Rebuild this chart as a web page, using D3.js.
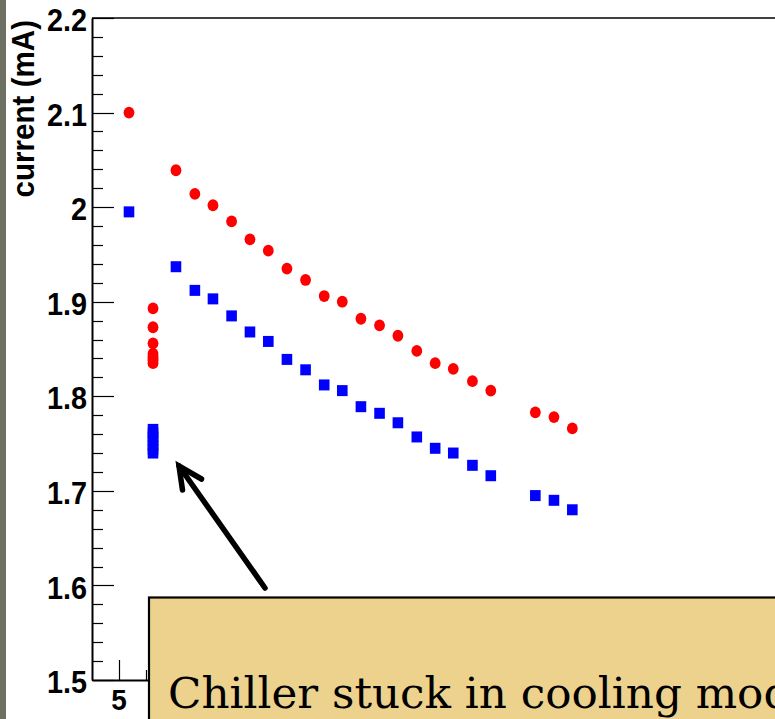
<!DOCTYPE html>
<html>
<head>
<meta charset="utf-8">
<script src="https://cdn.jsdelivr.net/npm/d3@7"></script>
<style>
  html, body { margin: 0; padding: 0; background: #ffffff; overflow: hidden; }
  svg { display: block; }
</style>
</head>
<body>
<svg id="chart" width="775" height="719"></svg>
<script>
// ---- data ----
const redX = [5.37, 6.26, 6.26, 6.26, 6.26, 6.26, 6.26, 6.26, 6.26,
              7.11, 7.81, 8.48, 9.17, 9.85, 10.53, 11.22, 11.91, 12.60, 13.27,
              13.96, 14.65, 15.33, 16.03, 16.71, 17.38, 18.09, 18.77, 20.42, 21.11, 21.79];
const redY = [2.100, 1.893, 1.873, 1.856, 1.845, 1.842, 1.840, 1.838, 1.835,
              2.039, 2.014, 2.002, 1.985, 1.966, 1.954, 1.935, 1.923, 1.906, 1.900,
              1.882, 1.875, 1.864, 1.848, 1.835, 1.829, 1.816, 1.806, 1.783, 1.778, 1.766];
const blueX = [5.37, 6.26, 6.26, 6.26, 6.26, 6.26, 6.26, 6.26,
               7.11, 7.81, 8.48, 9.17, 9.85, 10.53, 11.22, 11.91, 12.60, 13.27,
               13.96, 14.65, 15.33, 16.03, 16.71, 17.38, 18.09, 18.77, 20.42, 21.11, 21.79];
const blueY = [1.995, 1.765, 1.761, 1.757, 1.753, 1.748, 1.744, 1.740,
               1.937, 1.912, 1.903, 1.885, 1.868, 1.858, 1.839, 1.828, 1.812, 1.806,
               1.789, 1.782, 1.772, 1.757, 1.745, 1.740, 1.727, 1.716, 1.695, 1.690, 1.680];
const yMajorTicks = [1.5, 1.6, 1.7, 1.8, 1.9, 2.0, 2.1, 2.2];
const yTickLabels = ["1.5", "1.6", "1.7", "1.8", "1.9", "2", "2.1", "2.2"];
const xMajorTicks = [5];
const xTickLabels = ["5"];
const yTitle = "current (mA)";
const noteText = "Chiller stuck in cooling mode";

// ---- layout ----
const svg = d3.select("#chart");
const pLeft = 92, pTop = 18, pBottom = 680, pRight = 800;

const x = d3.scaleLinear().domain([4, 4 + (pRight - pLeft) / 27]).range([pLeft, pRight]);
const y = d3.scaleLinear().domain([1.5, 2.2]).range([pBottom, pTop]);

// left grey strip
svg.append("rect").attr("x", 0).attr("y", 0).attr("width", 6).attr("height", 719).attr("fill", "#6f7064");

// frame top
svg.append("line").attr("x1", pLeft).attr("x2", 780).attr("y1", pTop).attr("y2", pTop)
  .attr("stroke", "#000").attr("stroke-width", 1.6);

// Y axis
const yMinor = d3.range(0, 36).map(i => 1.5 + i * 0.02);
const yAxis = d3.axisLeft(y).tickValues([]).tickSize(0);
const gy = svg.append("g").attr("transform", `translate(${pLeft},0)`).call(yAxis);
gy.select(".domain").attr("stroke", "#000").attr("stroke-width", 2);
svg.append("g").selectAll("line").data(yMinor).join("line")
  .attr("x1", pLeft).attr("y1", d => Math.round(y(d)) + 0.5)
  .attr("x2", (d, i) => (i % 5 === 0) ? pLeft + 22 : pLeft + 11)
  .attr("y2", d => Math.round(y(d)) + 0.5)
  .attr("stroke", "#000").attr("stroke-width", 1.2);
svg.append("g").selectAll("text").data(yMajorTicks).join("text")
  .attr("transform", d => `translate(87,${y(d) + 2}) scale(0.93,1)`)
  .attr("dy", "0.36em")
  .attr("text-anchor", "end")
  .attr("font-family", "Liberation Sans, Arial, sans-serif")
  .attr("font-weight", "bold").attr("font-size", 31)
  .attr("fill", "#000")
  .text((d, i) => yTickLabels[i]);

// X axis
const xAxis = d3.axisBottom(x).tickValues([]).tickSize(0);
const gx = svg.append("g").attr("transform", `translate(0,${pBottom})`).call(xAxis);
gx.select(".domain").attr("stroke", "#000").attr("stroke-width", 2);
const xMinor = d3.range(5, 30, 1);
svg.append("g").selectAll("line").data(xMinor).join("line")
  .attr("x1", d => Math.round(x(d)) + 0.5).attr("x2", d => Math.round(x(d)) + 0.5)
  .attr("y1", pBottom)
  .attr("y2", d => (d % 5 === 0) ? pBottom - 20 : pBottom - 10)
  .attr("stroke", "#000").attr("stroke-width", 1.2);
svg.append("g").selectAll("text").data(xMajorTicks).join("text")
  .attr("transform", d => `translate(${x(d)},710) scale(0.93,1)`)
  .attr("text-anchor", "middle")
  .attr("font-family", "Liberation Sans, Arial, sans-serif")
  .attr("font-weight", "bold").attr("font-size", 30)
  .attr("fill", "#000")
  .text((d, i) => xTickLabels[i]);

// Y title
svg.append("text")
  .attr("transform", `translate(34,20) rotate(-90) scale(0.97,1)`)
  .attr("text-anchor", "end")
  .attr("font-family", "Liberation Sans, Arial, sans-serif")
  .attr("font-weight", "bold").attr("font-size", 30.5)
  .attr("fill", "#000")
  .text(yTitle);

// data markers
const redData = redX.map((v, i) => ({ x: v, y: redY[i] }));
const blueData = blueX.map((v, i) => ({ x: v, y: blueY[i] }));
svg.append("g").selectAll("ellipse").data(redData).join("ellipse")
  .attr("cx", d => x(d.x)).attr("cy", d => y(d.y))
  .attr("rx", 5.4).attr("ry", 5.9)
  .attr("fill", "#ff0000");
svg.append("g").selectAll("rect").data(blueData).join("rect")
  .attr("x", d => x(d.x) - 5.3).attr("y", d => y(d.y) - 5.5)
  .attr("width", 10.6).attr("height", 11)
  .attr("fill", "#0000ff");

// arrow
svg.append("path")
  .attr("d", "M265,588 L179,466")
  .attr("stroke", "#000").attr("stroke-width", 5.5).attr("stroke-linecap", "round").attr("fill", "none");
svg.append("path")
  .attr("d", "M201.5,479 L179,466 L182.5,490")
  .attr("stroke", "#000").attr("stroke-width", 5.5).attr("stroke-linecap", "round")
  .attr("stroke-linejoin", "miter").attr("fill", "none");

// annotation box
svg.append("rect")
  .attr("x", 149).attr("y", 597.5).attr("width", 700).attr("height", 200)
  .attr("fill", "#edd28e").attr("stroke", "#000").attr("stroke-width", 2.2);
svg.append("text")
  .attr("transform", "translate(168,708) scale(1.04,1)")
  .attr("font-family", "DejaVu Serif, serif")
  .attr("font-size", 42)
  .attr("fill", "#000")
  .text(noteText);
</script>
</body>
</html>
